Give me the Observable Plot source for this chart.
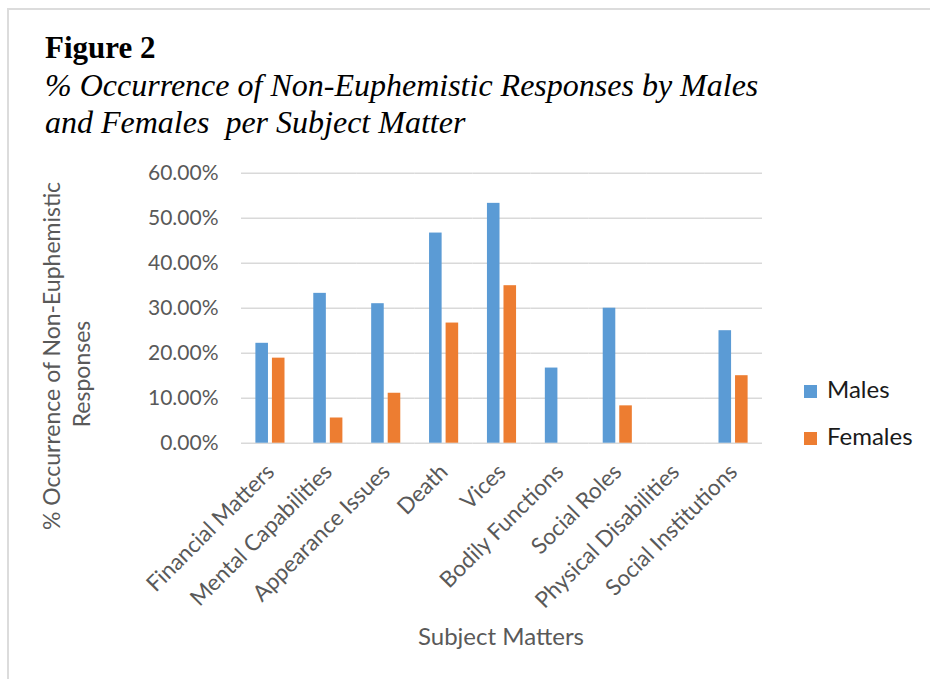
<!DOCTYPE html>
<html>
<head>
<meta charset="utf-8">
<script src="https://cdn.jsdelivr.net/npm/d3@7"></script>
<script src="https://cdn.jsdelivr.net/npm/@observablehq/plot@0.6"></script>
<style>
  html, body { margin: 0; padding: 0; background: #fff; }
  #page { position: relative; width: 930px; height: 679px; overflow: hidden; background: #fff; }
  .serif { position: absolute; left: 45px; font-family: "Liberation Serif", "Times New Roman", serif; color: #000; white-space: pre; }
  #fig { top: 32px; font-size: 31px; line-height: 31px; font-weight: bold; }
  #sub { top: 67px; font-size: 32px; line-height: 37px; font-style: italic; }
  #chart { position: absolute; left: 0; top: 150px; }
  #frame { position: absolute; left: 7px; top: 8px; width: 923px; height: 671px; box-sizing: border-box;
           border-top: 2px solid #dcdcdc; border-left: 2px solid #dcdcdc; pointer-events: none; }
</style>
</head>
<body>
<div id="page">
  <div id="fig" class="serif">Figure 2</div>
  <div id="sub" class="serif">% Occurrence of Non-Euphemistic Responses by Males
and Females  per Subject Matter</div>
  <div id="chart"></div>
  <div id="frame"></div>
</div>
<script>
// Subject matters along the x axis
const categories = [
  "Financial Matters", "Mental Capabilities", "Appearance Issues", "Death", "Vices",
  "Bodily Functions", "Social Roles", "Physical Disabilities", "Social Institutions"
];
const series = ["Males", "Females"];
// % occurrence of non-euphemistic responses
const malePct   = [22.2, 33.3, 31.0, 46.7, 53.3, 16.7, 30.0, 0, 25.0];
const femalePct = [18.9,  5.6, 11.1, 26.7, 35.0,  0,    8.3, 0, 15.0];
const yTicks = [0, 10, 20, 30, 40, 50, 60];
const seriesColors = ["#5B9BD5", "#ED7D31"];

const rows = categories.flatMap((subject, i) => [
  {subject, sex: "Males", pct: malePct[i]},
  {subject, sex: "Females", pct: femalePct[i]}
]);

const axisGray = "#595959";
const sans = "Lato, 'Open Sans', sans-serif";

const chart = Plot.plot({
  width: 930,
  height: 529,
  marginTop: 22.7,
  marginBottom: 236.3,
  marginLeft: 241,
  marginRight: 168,
  style: {fontFamily: sans, fontSize: "21px", color: axisGray, background: "white", overflow: "visible"},
  fx: {domain: categories, padding: 0, round: false, axis: null},
  x: {domain: series, axis: null, paddingInner: 0.24, paddingOuter: 0.87, round: false},
  y: {domain: [0, 60], ticks: yTicks, tickFormat: d => d.toFixed(2) + "%", tickSize: 0, tickPadding: 23, label: null},
  color: {domain: series, range: seriesColors},
  marks: [
    Plot.ruleY(yTicks, {stroke: "#d9d9d9", strokeWidth: 1.5}),
    Plot.barY(rows, {fx: "subject", x: "sex", y: "pct", fill: "sex"}),
    Plot.text(categories, {
      fx: d => d, text: d => d, frameAnchor: "bottom", rotate: -45,
      textAnchor: "end", lineAnchor: "middle", dy: 25, fontSize: 22.5, fill: axisGray
    })
  ]
});

const svg = d3.select(chart);

// y-axis title, two centred lines
svg.append("text")
  .attr("transform", "translate(60,206) rotate(-90)")
  .attr("text-anchor", "middle")
  .attr("font-family", sans).attr("font-size", 23).attr("fill", axisGray)
  .text("% Occurrence of Non-Euphemistic");
svg.append("text")
  .attr("transform", "translate(90,224) rotate(-90)")
  .attr("text-anchor", "middle")
  .attr("font-family", sans).attr("font-size", 23).attr("fill", axisGray)
  .text("Responses");

// x-axis title
svg.append("text")
  .attr("x", 501).attr("y", 495)
  .attr("text-anchor", "middle")
  .attr("font-family", sans).attr("font-size", 24).attr("fill", axisGray)
  .text("Subject Matters");

// legend
const legend = svg.append("g").attr("text-anchor", "start");
series.forEach((name, i) => {
  const base = 248 + i * 47;
  legend.append("rect")
    .attr("x", 804).attr("y", base - 13).attr("width", 13).attr("height", 13)
    .attr("fill", seriesColors[i]);
  legend.append("text")
    .attr("x", 827).attr("y", base)
    .attr("text-anchor", "start")
    .attr("font-family", sans).attr("font-size", 24).attr("fill", "#1a1a1a")
    .text(name);
});

document.getElementById("chart").appendChild(chart);
</script>
</body>
</html>
